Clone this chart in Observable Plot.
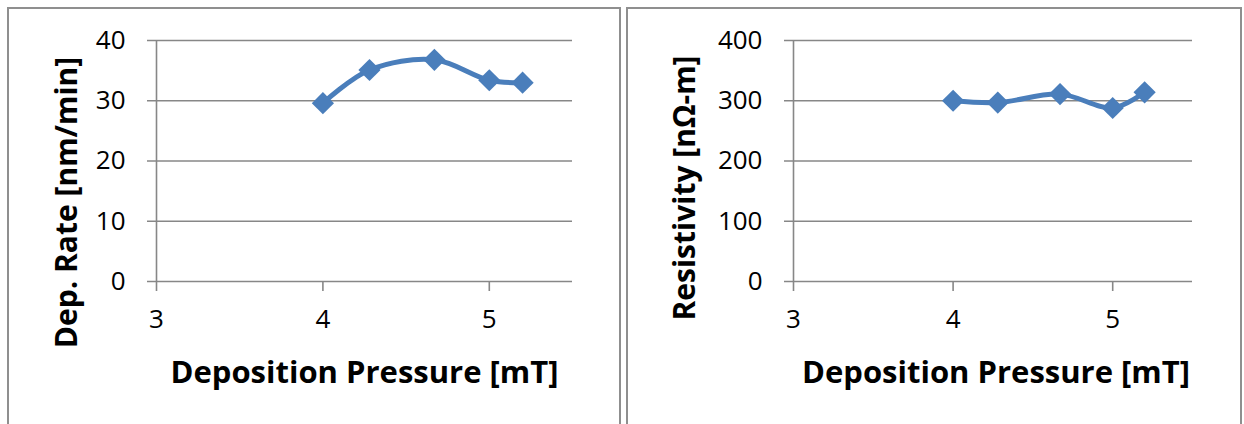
<!DOCTYPE html>
<html><head><meta charset="utf-8">
<script src="https://cdn.jsdelivr.net/npm/d3@7"></script>
<script src="https://cdn.jsdelivr.net/npm/@observablehq/plot@0.6"></script>
<style>
body{margin:0;background:#fff;width:1244px;height:424px;overflow:hidden;position:relative;font-family:"Open Sans",sans-serif}
.chart{position:absolute;top:0}
#c1{left:0}
#c2{left:622px}
.panel{position:absolute;top:7px;height:440px;border:2px solid #8f8f8f;border-bottom:none;box-sizing:border-box;z-index:2;pointer-events:none}
#p1{left:7px;width:614px}
#p2{left:626px;width:616px}
</style></head><body>
<div class="chart" id="c1"></div><div class="chart" id="c2"></div>
<div class="panel" id="p1"></div><div class="panel" id="p2"></div>
<script>
const pressure = [4.0, 4.28, 4.67, 5.0, 5.2];
const depRate = [29.6, 35.1, 36.8, 33.4, 33.0];
const resistivity = [300, 297, 311, 288, 314];
const xTicks = [3, 4, 5];
const depTicks = [0, 10, 20, 30, 40];
const resTicks = [0, 100, 200, 300, 400];
const xLabel = "Deposition Pressure [mT]";
const depLabel = "Dep. Rate [nm/min]";
const resLabel = "Resistivity [nΩ-m]";

const blue = "#4a7ebb";
const grid = "#878787";

function makeChart({values, yTicks, yLabel, marginLeft, marginRight, labelDx, labelDy, xLabelDx}) {
  const data = pressure.map((p, i) => ({x: p, y: values[i]}));
  return Plot.plot({
    width: 622, height: 424,
    marginLeft, marginRight, marginTop: 40, marginBottom: 143,
    style: {fontFamily: "'Open Sans', sans-serif", fontSize: "26px", color: "#000", background: "white"},
    x: {domain: [3, 5.5]},
    y: {domain: [yTicks[0], yTicks[yTicks.length - 1]]},
    marks: [
      Plot.ruleY(yTicks, {stroke: grid, strokeWidth: 1.6, insetLeft: -9}),
      Plot.ruleX([3], {stroke: grid, strokeWidth: 1.6}),
      Plot.axisX(xTicks, {tickSize: 10, tickPadding: 18, stroke: grid, strokeWidth: 1.6, fill: "#000", label: null, fontSize: 26, tickFormat: d => String(d)}),
      Plot.axisY(yTicks, {tickSize: 0, tickPadding: 31, fill: "#000", label: null, fontSize: 26, tickFormat: d => String(d)}),
      Plot.line(data, {x: "x", y: "y", stroke: blue, strokeWidth: 5, curve: "catmull-rom"}),
      Plot.dot(data, {x: "x", y: "y", symbol: "diamond2", r: 10, fill: blue, stroke: "none"}),
      Plot.text([yLabel], {text: d => d, frameAnchor: "left", rotate: -90, dx: labelDx, dy: labelDy, fontWeight: "bold", fontSize: 30, textAnchor: "middle", lineAnchor: "middle", fill: "#000"}),
      Plot.text([xLabel], {text: d => d, frameAnchor: "bottom", dx: xLabelDx, dy: 92, fontWeight: "bold", fontSize: 31, textAnchor: "middle", lineAnchor: "middle", fill: "#000"})
    ]
  });
}

document.getElementById("c1").append(makeChart({
  values: depRate, yTicks: depTicks, yLabel: depLabel,
  marginLeft: 156, marginRight: 50, labelDx: -89, labelDy: 41.5, xLabelDx: 0
}));
document.getElementById("c2").append(makeChart({
  values: resistivity, yTicks: resTicks, yLabel: resLabel,
  marginLeft: 171, marginRight: 52, labelDx: -108, labelDy: 27, xLabelDx: 3
}));
</script>
</body></html>
